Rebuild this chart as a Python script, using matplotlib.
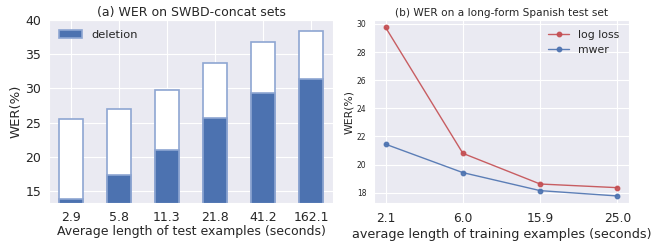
import matplotlib
matplotlib.use('Agg')
import matplotlib.pyplot as plt
import seaborn as sns

# (a) SWBD-concat
test_lengths = ['2.9', '5.8', '11.3', '21.8', '41.2', '162.1']
wer_total = [25.6, 27.0, 29.8, 33.7, 36.8, 38.4]
wer_deletion = [13.8, 17.3, 21.0, 25.7, 29.4, 31.4]

# (b) long-form Spanish
train_lengths = ['2.1', '6.0', '15.9', '25.0']
wer_logloss = [29.75, 20.8, 18.62, 18.36]
wer_mwer = [21.45, 19.43, 18.15, 17.77]

sns.set_style('darkgrid')
plt.rcParams['font.family'] = ['DejaVu Sans']

blue = '#4C72B0'
red = '#C44E52'

fig = plt.figure(figsize=(6.65, 2.43), dpi=100)
ax1 = fig.add_axes([49 / 665, 40 / 243, 284 / 665, 183 / 243])
ax2 = fig.add_axes([374 / 665, 40 / 243, 255 / 665, 183 / 243])

x = range(len(test_lengths))
ax1.bar(x, wer_total, width=0.5, color='white', edgecolor='#8EA6D2', linewidth=1.2)
ax1.bar(x, wer_deletion, width=0.5, color=blue, edgecolor='#8EA6D2', linewidth=1.2, label='deletion')
ax1.set_xticks(list(x))
ax1.set_xticklabels(test_lengths)
ax1.set_xlim(-0.45, 5.45)
ax1.set_ylim(13.25, 40)
ax1.set_yticks([15, 20, 25, 30, 35, 40])
ax1.tick_params(labelsize=9, pad=2)
ax1.set_title('(a) WER on SWBD-concat sets', fontsize=9, pad=3)
ax1.set_xlabel('Average length of test examples (seconds)', fontsize=9, labelpad=1)
ax1.set_ylabel('WER(%)', fontsize=9.5, labelpad=2)
ax1.legend(loc='upper left', frameon=False, fontsize=8.2)

x2 = range(len(train_lengths))
ax2.plot(x2, wer_logloss, color=red, marker='o', markersize=3.2, linewidth=1.0, alpha=0.9, label='log loss')
ax2.plot(x2, wer_mwer, color=blue, marker='o', markersize=3.2, linewidth=1.0, alpha=0.9, label='mwer')
ax2.set_xticks(list(x2))
ax2.set_xticklabels(train_lengths, fontsize=8.8)
ax2.set_ylim(17.27, 30.28)
ax2.set_yticks([18, 20, 22, 24, 26, 28, 30])
ax2.tick_params(axis='y', labelsize=5.5, pad=2)
ax2.tick_params(axis='x', pad=3)
ax2.set_title('(b) WER on a long-form Spanish test set', fontsize=7.6, pad=3)
ax2.set_xlabel('average length of training examples (seconds)', fontsize=9.2, labelpad=2)
ax2.set_ylabel('WER(%)', fontsize=7.8, labelpad=2)
ax2.legend(loc='upper right', frameon=False, fontsize=7.8)

fig.savefig('out.png', dpi=100)
